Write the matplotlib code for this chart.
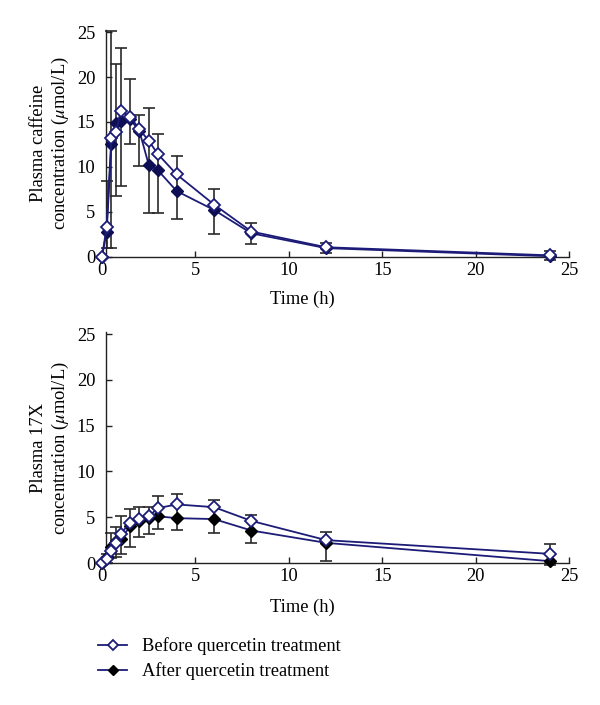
import matplotlib
matplotlib.use("Agg")
import matplotlib.pyplot as plt
import numpy as np

# ---------------- data ----------------
time_h = [0, 0.25, 0.5, 0.75, 1, 1.5, 2, 2.5, 3, 4, 6, 8, 12, 24]

caf_before = [0, 3.35, 13.2, 13.85, 16.2, 15.6, 14.2, 12.9, 11.4, 9.15, 5.8, 2.8, 1.05, 0.15]
caf_after = [0, 2.8, 12.55, 14.9, 15.1, 15.3, 14.0, 10.25, 9.6, 7.3, 5.2, 2.6, 0.95, 0.05]
caf_err_top = [0, 8.4, 25.1, 21.4, 23.2, 19.8, 15.8, 16.5, 13.7, 11.25, 7.56, 3.8, 1.5, 0.6]
caf_err_bottom = [0, 1.0, 1.0, 6.8, 7.9, 12.5, 10.1, 4.85, 4.85, 4.2, 2.54, 1.42, 0.4, -0.4]

x17_before = [0, 0.4, 1.3, 2.2, 3.2, 4.4, 4.8, 5.1, 6.0, 6.4, 6.1, 4.6, 2.5, 1.0]
x17_after = [0, 0.7, 1.8, 2.4, 2.6, 4.0, 4.55, 4.9, 5.1, 4.9, 4.8, 3.55, 2.2, 0.2]
x17_err_top = [0, 1.0, 3.3, 3.9, 5.1, 5.9, 6.1, 6.1, 7.3, 7.5, 6.9, 5.2, 3.4, 2.1]
x17_err_bottom = [0, 0.0, 0.5, 0.7, 1.0, 1.8, 2.8, 3.2, 3.7, 3.6, 3.3, 2.2, 0.2, -0.2]

xticks = [0, 5, 10, 15, 20, 25]
yticks = [0, 5, 10, 15, 20, 25]
label_before = "Before quercetin treatment"
label_after = "After quercetin treatment"
ylabels = ["Plasma caffeine\nconcentration ($\\mu$mol/L)",
           "Plasma 17X\nconcentration ($\\mu$mol/L)"]
xlabel = "Time (h)"

# ---------------- style ----------------
plt.rcParams['font.family'] = ['Liberation Serif', 'DejaVu Serif']
plt.rcParams['mathtext.fontset'] = 'stix'
FS = 13.3

LINE = '#1c1c78'
ERR = '#2a2a2a'

fig = plt.figure(figsize=(6.0, 7.05), dpi=100)
ax1 = fig.add_axes([0.1638, 0.6359, 0.7845, 0.3211])
ax2 = fig.add_axes([0.1638, 0.2014, 0.7845, 0.3272])


def draw(ax, before, after, top, bottom, ylabel, fill_after):
    t = np.array(time_h)
    b = np.array(before)
    lo = b - np.array(bottom)
    hi = np.array(top) - b
    ax.errorbar(t, b, yerr=[lo, hi], fmt='none', ecolor=ERR, elinewidth=1.2,
                capsize=4.5, capthick=1.2, zorder=1, clip_on=False)
    l1, = ax.plot(t, before, color=LINE, lw=1.3, marker='D', markersize=6.3,
                  markerfacecolor='white', markeredgecolor=LINE, markeredgewidth=1.3,
                  zorder=4, clip_on=False)
    l2, = ax.plot(t, after, color=LINE, lw=1.3, marker='D', markersize=6.3,
                  markerfacecolor=fill_after, markeredgecolor=fill_after,
                  zorder=3, clip_on=False)
    ax.set_xlim(-0.2, 25)
    ax.set_ylim(0, 25.2)
    ax.spines['top'].set_visible(False)
    ax.spines['right'].set_visible(False)
    ax.spines['left'].set_position(('data', 0.2))
    ax.spines['bottom'].set_bounds(0.2, 25)
    for s in ('left', 'bottom'):
        ax.spines[s].set_linewidth(1.0)
        ax.spines[s].set_color('#222222')
    ax.set_xticks(xticks)
    ax.set_yticks(yticks)
    ax.tick_params(direction='in', length=4, width=1, color='#222222', labelsize=FS)
    ax.tick_params(axis='x', pad=3.5)
    ax.tick_params(axis='y', pad=7.5)
    ax.xaxis.get_major_ticks()[0].tick1line.set_visible(False)
    ax.set_xlabel(xlabel, fontsize=FS)
    ax.set_ylabel(ylabel, fontsize=FS, linespacing=1.2)
    ax.yaxis.set_label_coords(-0.058, 0.5)
    return l1, l2


draw(ax1, caf_before, caf_after, caf_err_top, caf_err_bottom, ylabels[0], '#0e0e55')
ax1.xaxis.set_label_coords(0.433, -0.150)
h1, h2 = draw(ax2, x17_before, x17_after, x17_err_top, x17_err_bottom, ylabels[1], 'black')
ax2.xaxis.set_label_coords(0.433, -0.154)

fig.legend([h1, h2], [label_before, label_after], loc='upper left',
           bbox_to_anchor=(0.163, 0.096), frameon=False, fontsize=FS,
           handlelength=1.6, handletextpad=0.8, labelspacing=0.38,
           borderpad=0, borderaxespad=0, markerscale=0.85)

fig.savefig('out.png', dpi=100)
